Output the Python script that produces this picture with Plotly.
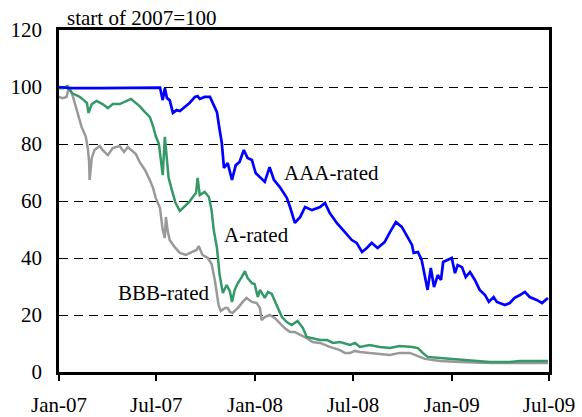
import plotly.graph_objects as go

# ---- data ----
aaa_dates = ["2007-01-01","2007-01-21","2007-03-18","2007-05-13","2007-07-08","2007-07-13","2007-07-17","2007-07-21",
"2007-07-26","2007-08-01","2007-08-08","2007-08-14","2007-08-23","2007-09-01","2007-09-11","2007-09-16","2007-09-20",
"2007-09-29","2007-10-09","2007-10-14","2007-10-22","2007-10-27","2007-10-31","2007-11-04","2007-11-11","2007-11-19",
"2007-11-26","2007-12-03","2007-12-11","2007-12-18","2007-12-26","2008-01-02","2008-01-10","2008-01-19","2008-01-28",
"2008-02-05","2008-02-16","2008-02-29","2008-03-06","2008-03-15","2008-03-25","2008-04-03","2008-04-16","2008-05-01",
"2008-05-10","2008-05-19","2008-06-01","2008-06-16","2008-06-29","2008-07-08","2008-07-18","2008-07-27","2008-08-05",
"2008-08-16","2008-08-29","2008-09-08","2008-09-19","2008-09-30","2008-10-11","2008-10-19","2008-10-22","2008-10-30",
"2008-11-06","2008-11-12","2008-11-17","2008-11-23","2008-11-29","2008-12-06","2008-12-12","2008-12-16","2008-12-23",
"2009-01-01","2009-01-07","2009-01-12","2009-01-20","2009-01-27","2009-02-04","2009-02-13","2009-02-22","2009-03-04",
"2009-03-11","2009-03-20","2009-03-26","2009-04-01","2009-04-10","2009-04-19","2009-04-28","2009-05-08","2009-05-17",
"2009-05-26","2009-06-08","2009-06-18","2009-06-29"]
aaa_values = [100.0,99.6,99.6,99.8,99.8,95.4,99.6,96.1,
95.4,90.9,91.9,91.6,93.0,94.4,96.5,96.8,95.8,
96.5,96.5,94.4,91.2,84.9,80.4,71.6,73.3,67.4,
72.6,73.7,77.9,75.1,74.4,69.8,68.4,66.7,71.9,
67.4,64.9,61.1,57.9,52.3,54.4,57.9,56.8,57.9,
59.3,55.8,52.3,49.1,46.3,45.3,42.1,43.5,45.3,
43.5,45.6,49.1,52.6,50.9,47.4,44.6,41.8,42.1,
39.3,33.3,28.8,36.5,29.8,34.0,32.3,38.6,39.3,
40.0,34.7,37.5,36.8,33.3,35.1,32.3,28.8,27.0,
24.6,26.3,24.6,24.2,23.5,24.2,26.0,27.0,28.1,
26.3,25.3,24.2,26.0]

a_dates = ["2007-01-01","2007-01-08","2007-01-17","2007-01-25","2007-02-01","2007-02-09","2007-02-16","2007-02-22",
"2007-02-25","2007-03-03","2007-03-12","2007-03-23","2007-04-02","2007-04-11","2007-04-24","2007-05-07","2007-05-15",
"2007-05-22","2007-05-31","2007-06-10","2007-06-19","2007-06-25","2007-06-30","2007-07-06","2007-07-09","2007-07-13",
"2007-07-17","2007-07-21","2007-07-24","2007-07-30","2007-08-06","2007-08-14","2007-08-21","2007-08-31","2007-09-07",
"2007-09-13","2007-09-16","2007-09-20","2007-09-29","2007-10-07","2007-10-12","2007-10-16","2007-10-22","2007-10-27",
"2007-11-02","2007-11-09","2007-11-15","2007-11-19","2007-11-24","2007-11-30","2007-12-07","2007-12-13","2007-12-18",
"2007-12-26","2007-12-31","2008-01-06","2008-01-10","2008-01-19","2008-01-25","2008-02-01","2008-02-10","2008-02-20",
"2008-02-29","2008-03-09","2008-03-20","2008-03-30","2008-04-06","2008-04-17","2008-05-01","2008-05-14","2008-05-25",
"2008-06-07","2008-06-26","2008-07-05","2008-07-14","2008-08-01","2008-08-20","2008-09-08","2008-09-26","2008-10-20",
"2008-10-30","2008-11-08","2008-11-17","2008-12-10","2008-12-28","2009-02-04","2009-03-13","2009-04-19","2009-05-08",
"2009-06-29"]
a_values = [99.6,99.6,100.3,97.9,97.2,96.5,95.4,94.4,
90.9,94.0,95.1,94.0,92.6,94.0,94.0,95.1,95.8,
94.7,93.3,91.2,89.5,86.3,82.8,80.0,76.1,69.1,
82.5,74.4,68.1,63.9,59.3,56.5,57.9,59.6,61.4,
62.8,68.1,62.1,63.2,61.4,56.8,49.8,43.5,34.0,
27.7,30.5,28.4,24.6,28.8,31.2,33.3,35.4,33.0,
31.2,30.9,26.3,28.8,26.0,28.1,27.4,23.5,19.3,
17.5,16.5,17.9,15.4,12.3,11.9,11.2,11.2,10.2,
10.5,9.5,10.2,8.8,9.5,8.8,8.4,9.1,8.8,
8.4,6.7,5.3,4.9,4.6,4.2,3.5,3.5,3.9,
3.9]

bbb_dates = ["2007-01-01","2007-01-08","2007-01-15","2007-01-19","2007-01-25","2007-01-30","2007-02-05","2007-02-12",
"2007-02-20","2007-02-24","2007-02-26","2007-02-27","2007-03-03","2007-03-08","2007-03-18","2007-03-23","2007-04-02",
"2007-04-11","2007-04-24","2007-05-02","2007-05-09","2007-05-16","2007-05-24","2007-05-31","2007-06-10","2007-06-19",
"2007-06-25","2007-06-30","2007-07-08","2007-07-13","2007-07-17","2007-07-19","2007-07-22","2007-07-26","2007-08-04",
"2007-08-14","2007-08-25","2007-09-05","2007-09-14","2007-09-18","2007-09-25","2007-10-05","2007-10-12","2007-10-18",
"2007-10-22","2007-10-25","2007-10-29","2007-11-06","2007-11-11","2007-11-15","2007-11-20","2007-11-30","2007-12-09",
"2007-12-16","2007-12-26","2008-01-04","2008-01-10","2008-01-13","2008-01-19","2008-01-28","2008-02-07","2008-02-16",
"2008-02-25","2008-03-06","2008-03-15","2008-03-25","2008-04-06","2008-04-17","2008-05-01","2008-05-19","2008-06-07",
"2008-06-16","2008-06-26","2008-07-05","2008-07-14","2008-08-01","2008-08-20","2008-09-08","2008-09-26","2008-10-15",
"2008-10-30","2008-11-12","2008-12-10","2009-01-17","2009-03-13","2009-06-29"]
bbb_values = [96.5,96.1,96.5,99.6,97.9,94.7,90.2,86.0,
82.5,77.9,73.7,67.4,75.1,77.9,79.3,77.9,76.1,
78.6,79.3,77.2,78.9,77.9,76.5,73.7,70.9,67.4,
64.6,61.1,57.5,49.8,47.0,54.4,49.8,46.3,43.9,
41.8,41.1,42.1,42.8,44.2,41.1,40.0,37.9,32.3,
28.1,23.5,21.4,22.5,22.5,21.1,20.7,22.5,24.6,
26.0,24.6,24.2,22.5,18.2,19.3,20.0,18.9,17.2,
15.4,14.0,14.0,13.0,11.9,10.5,10.2,8.8,7.7,
6.7,6.7,7.4,7.0,6.7,6.3,6.0,6.7,6.7,
5.6,4.6,3.9,3.5,3.2,3.2]

tick_dates = ["2007-01-01","2007-07-01","2008-01-01","2008-07-01","2009-01-01","2009-07-01"]
tick_labels = ["Jan-07","Jul-07","Jan-08","Jul-08","Jan-09","Jul-09"]
y_ticks = [0, 20, 40, 60, 80, 100, 120]

FONT = "'Liberation Serif', 'Times New Roman', serif"
FS = 21

fig = go.Figure()
fig.add_trace(go.Scatter(x=bbb_dates, y=bbb_values, mode="lines", name="BBB-rated",
                         line=dict(color="#999999", width=2.5)))
fig.add_trace(go.Scatter(x=a_dates, y=a_values, mode="lines", name="A-rated",
                         line=dict(color="#339966", width=2.5)))
fig.add_trace(go.Scatter(x=aaa_dates, y=aaa_values, mode="lines", name="AAA-rated",
                         line=dict(color="#0000FF", width=2.7)))

fig.update_layout(
    width=582, height=417,
    margin=dict(l=59, r=33, t=30, b=45, autoexpand=False),
    paper_bgcolor="white", plot_bgcolor="white",
    showlegend=False,
    font=dict(family=FONT, size=FS, color="black"),
)
fig.update_xaxes(
    range=["2007-01-01", "2009-07-01"],
    tickvals=tick_dates, ticktext=tick_labels,
    ticks="outside", ticklen=6, tickwidth=2, tickcolor="black",
    ticklabelstandoff=6,
    showline=True, linecolor="black", linewidth=2.5, mirror=True,
    showgrid=False, zeroline=False, automargin=False,
    tickfont=dict(family=FONT, size=FS),
)
fig.update_yaxes(
    range=[0, 120], tickvals=y_ticks,
    ticks="", ticklabelstandoff=10,
    showline=True, linecolor="black", linewidth=2.5, mirror=True,
    showgrid=True, gridcolor="black", gridwidth=1, griddash="9px,6px",
    zeroline=False, automargin=False,
    tickfont=dict(family=FONT, size=FS),
)

fig.add_annotation(text="start of 2007=100", xref="paper", yref="paper",
                   x=0.014, y=1, xanchor="left", yanchor="bottom", showarrow=False,
                   borderpad=0, yshift=-1,
                   font=dict(family=FONT, size=21))
fig.add_annotation(text="AAA-rated", x="2008-05-23", y=69.8, showarrow=False,
                   font=dict(family=FONT, size=FS), bgcolor="white")
fig.add_annotation(text="A-rated", x="2008-01-03", y=48.1, showarrow=False,
                   font=dict(family=FONT, size=FS), bgcolor="white")
fig.add_annotation(text="BBB-rated", x="2007-07-14", y=27.7, showarrow=False,
                   font=dict(family=FONT, size=FS), bgcolor="white")

# remove the default 8px page margin so the figure sits at the window's top-left corner
fig.write_html("out.html", config={"displayModeBar": False},
               post_script="document.body.style.margin='0';")
